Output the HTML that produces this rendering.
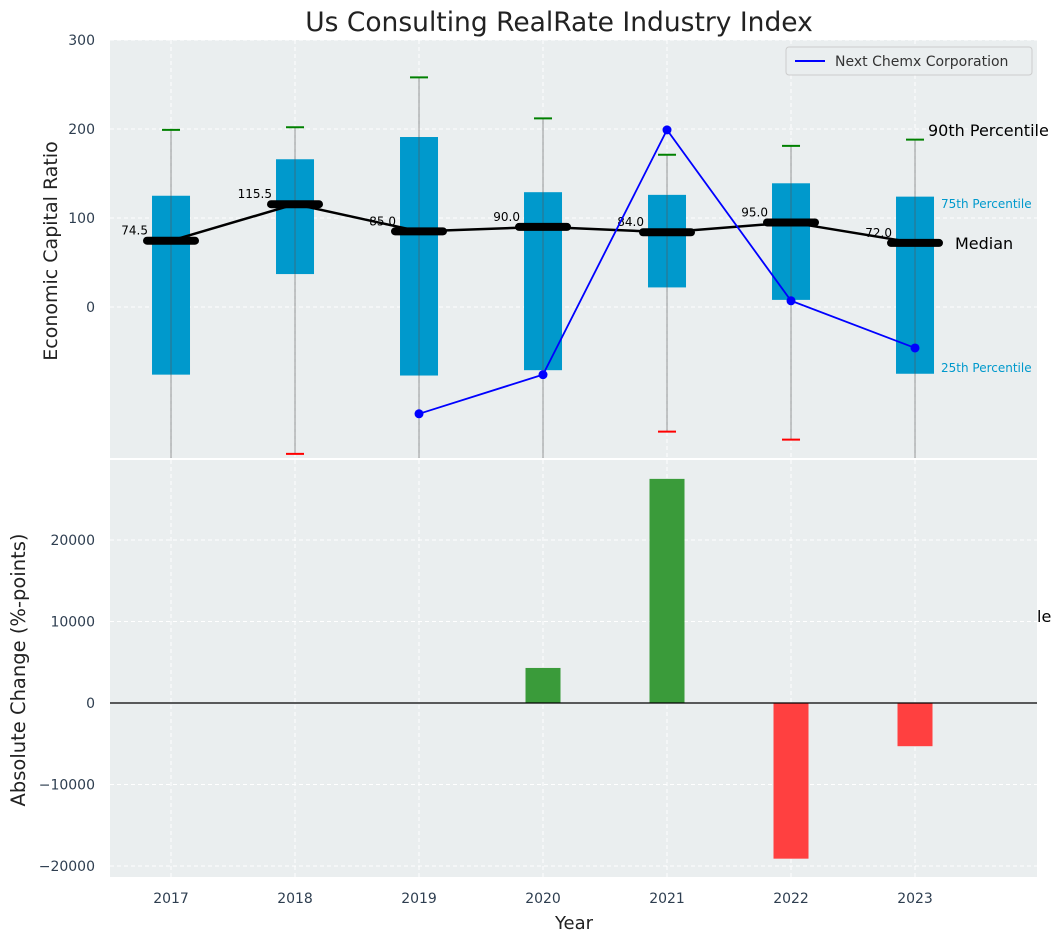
<!DOCTYPE html>
<html><head><meta charset="utf-8"><style>
body{margin:0;background:#fff;font-family:"Liberation Sans","DejaVu Sans",sans-serif;}
</style></head><body>
<svg id="c" width="1063" height="942" xmlns="http://www.w3.org/2000/svg" font-family="DejaVu Sans, Liberation Sans, sans-serif"></svg>
<script>
const years=[2017,2018,2019,2020,2021,2022,2023];
const q75=[125,166,191,129,126,139,124];
const q25=[-76,37,-77,-71,22,8,-75];
const p90=[199,202,258,212,171,181,188];
const p10=[-200,-165,-200,-200,-140,-149,-200];
const medians=[74.5,115.5,85.0,90.0,84.0,95.0,72.0];
const compYears=[2019,2020,2021,2022,2023];
const compVals=[-120,-76,199,7,-46];
const changeYears=[2020,2021,2022,2023];
const changeVals=[4300,27500,-19100,-5300];
const topTicks=[300,200,100,0];
const botTicks=[20000,10000,0,-10000,-20000];

const NS="http://www.w3.org/2000/svg";
const svg=document.getElementById('c');
function el(t,a,p){const e=document.createElementNS(NS,t);for(const k in a)e.setAttribute(k,a[k]);(p||svg).appendChild(e);return e;}
const X0=110,X1=1037;
const x=v=>X0+(v-2016.508)*124;
const yT=v=>307-v*0.89;
const yB=v=>703-v*0.00815;

let e=el('rect',{x:X0,y:40,width:X1-X0,height:418,fill:'#eaeeef'});

e=el('rect',{x:X0,y:460,width:X1-X0,height:417,fill:'#eaeeef'});


years.forEach(yr=>{
 el('line',{x1:x(yr),x2:x(yr),y1:40,y2:458,stroke:'#fff','stroke-dasharray':'4,3','stroke-width':1});
 el('line',{x1:x(yr),x2:x(yr),y1:460,y2:877,stroke:'#fff','stroke-dasharray':'4,3','stroke-width':1});
 const t=el('text',{x:x(yr),y:903,'text-anchor':'middle','font-size':14,fill:'#2e3e50'});t.textContent=yr;
 
});
topTicks.forEach(v=>{
 el('line',{x1:X0,x2:X1,y1:yT(v),y2:yT(v),stroke:'#fff','stroke-dasharray':'4,3'});
 const t=el('text',{x:95,y:yT(v)+5,'text-anchor':'end','font-size':14,fill:'#2e3e50'});t.textContent=v;
 
});
botTicks.forEach(v=>{
 el('line',{x1:X0,x2:X1,y1:yB(v),y2:yB(v),stroke:'#fff','stroke-dasharray':'4,3'});
 const t=el('text',{x:95,y:yB(v)+5,'text-anchor':'end','font-size':14,fill:'#2e3e50'});t.textContent=v<0?'\u2212'+(-v):v;
 
});

const defs=el('defs',{});
const cp=el('clipPath',{id:'ct'},defs);el('rect',{x:X0,y:40,width:X1-X0,height:418},cp);
const gT=el('g',{'clip-path':'url(#ct)'});
years.forEach((yr,i)=>{
 const cx=x(yr);
 let b=el('rect',{x:cx-19,y:yT(q75[i]),width:38,height:yT(q25[i])-yT(q75[i]),fill:'#0099cc'},gT);
 
 el('line',{x1:cx,x2:cx,y1:yT(p90[i]),y2:yT(p10[i]),stroke:'#555','stroke-opacity':0.6,'stroke-width':1},gT);
 let c=el('line',{x1:cx-9,x2:cx+9,y1:yT(p90[i]),y2:yT(p90[i]),stroke:'green','stroke-width':2},gT);
 
 c=el('line',{x1:cx-9,x2:cx+9,y1:yT(p10[i]),y2:yT(p10[i]),stroke:'red','stroke-width':2},gT);
 
});
el('polyline',{points:years.map((yr,i)=>x(yr)+','+yT(medians[i])).join(' '),fill:'none',stroke:'#000','stroke-width':2.5},gT);
years.forEach((yr,i)=>{
 const cx=x(yr);
 const m=el('line',{x1:cx-24,x2:cx+24,y1:yT(medians[i]),y2:yT(medians[i]),stroke:'#000','stroke-width':8,'stroke-linecap':'round'},gT);
 
 const t=el('text',{x:cx-23,y:yT(medians[i])-6,'text-anchor':'end','font-size':12,fill:'#000'},gT);t.textContent=medians[i].toFixed(1);
 
});
const pl=el('polyline',{points:compYears.map((yr,i)=>x(yr)+','+yT(compVals[i])).join(' '),fill:'none',stroke:'blue','stroke-width':1.8},gT);

compYears.forEach((yr,i)=>{el('circle',{cx:x(yr),cy:yT(compVals[i]),r:4.5,fill:'blue'},gT);});

[['90th Percentile',928,136,16,'#000'],['75th Percentile',941,208,12,'#0099cc'],['Median',955,249,16,'#000'],['25th Percentile',941,372,12,'#0099cc'],['le',1037,622,16,'#000']].forEach(a=>{
 const t=el('text',{x:a[1],y:a[2],'font-size':a[3],fill:a[4]});t.textContent=a[0];
 
});

const lg=el('g',{});
el('rect',{x:786,y:47,width:246,height:28,rx:3,fill:'#eaeeef',stroke:'#ccc'},lg);
el('line',{x1:795,x2:825,y1:61,y2:61,stroke:'blue','stroke-width':2},lg);
let lt=el('text',{x:835,y:66,'font-size':14,fill:'#333'},lg);lt.textContent='Next Chemx Corporation';

changeYears.forEach((yr,i)=>{
 const v=changeVals[i];
 const r=el('rect',{x:x(yr)-17.5,y:Math.min(yB(v),yB(0)),width:35,height:Math.abs(yB(v)-yB(0)),fill:v>=0?'#3a9b3a':'#ff4040'});
 
});
el('line',{x1:X0,x2:X1,y1:yB(0),y2:yB(0),stroke:'#000','stroke-width':1.2});

let t=el('text',{x:559,y:31,'text-anchor':'middle','font-size':26.5,fill:'#222'});t.textContent='Us Consulting RealRate Industry Index';

t=el('text',{x:574,y:929,'text-anchor':'middle','font-size':18,fill:'#222'});t.textContent='Year';

t=el('text',{x:0,y:0,'text-anchor':'middle','font-size':19,fill:'#222',transform:'translate(57,251) rotate(-90)'});t.textContent='Economic Capital Ratio';

t=el('text',{x:0,y:0,'text-anchor':'middle','font-size':19.5,fill:'#222',transform:'translate(25,670) rotate(-90)'});t.textContent='Absolute Change (%-points)';

</script>
</body></html>
